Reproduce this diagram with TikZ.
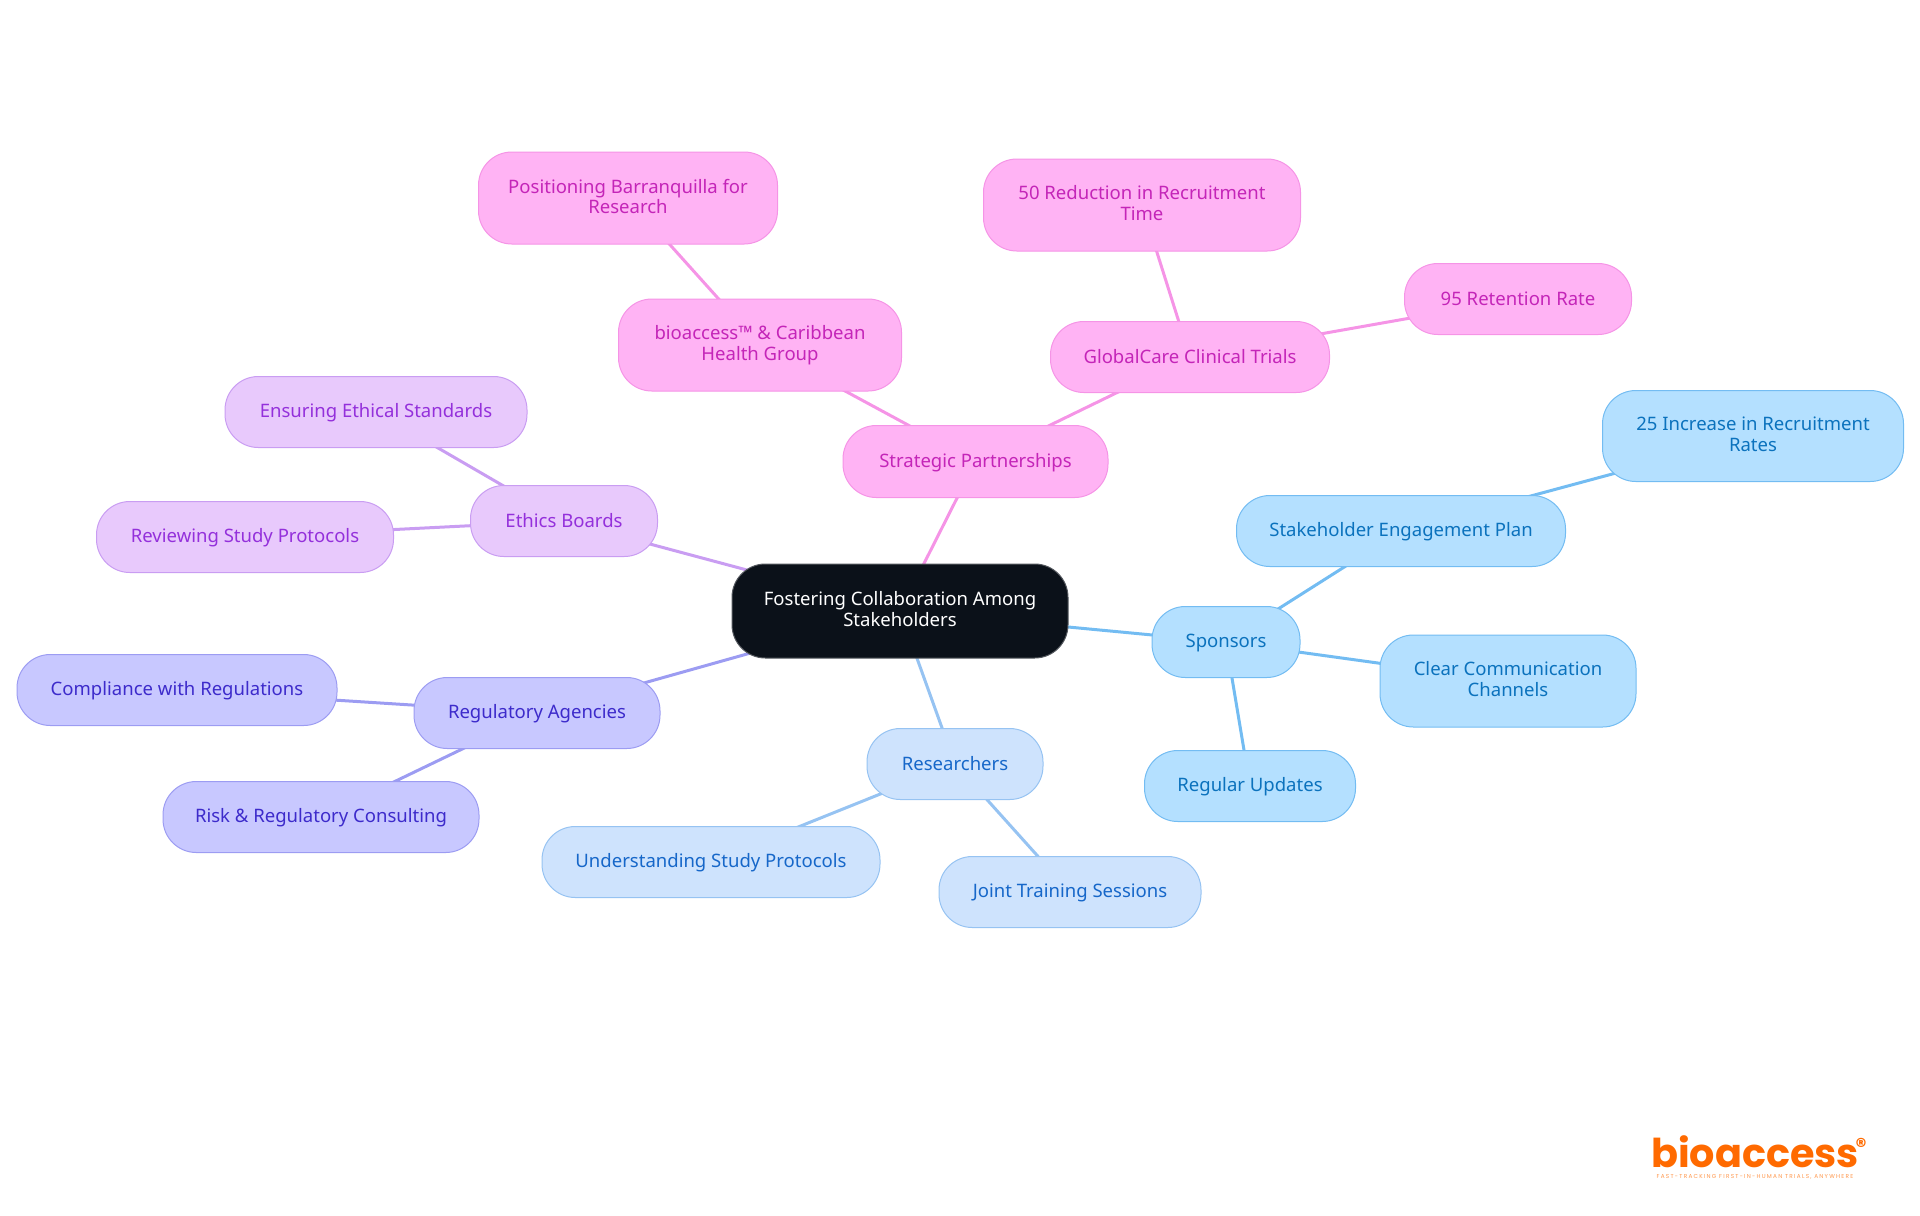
\documentclass[tikz,border=0pt]{standalone}
\usepackage{fontspec}
\setmainfont{Noto Sans}
\newfontfamily\logofont[Ligatures=NoCommon]{Poppins}
\newfontfamily\tagfont[LetterSpace=22]{Poppins}
\usetikzlibrary{backgrounds}
\definecolor{rootfill}{HTML}{0B1119}
\definecolor{pinkfill}{HTML}{FFB3F4}
\definecolor{pinkline}{HTML}{F594E6}
\definecolor{pinktext}{HTML}{C425B8}
\definecolor{lilacfill}{HTML}{E8C9FC}
\definecolor{lilacline}{HTML}{C99DF2}
\definecolor{lilactext}{HTML}{9430DB}
\definecolor{indigofill}{HTML}{C8C8FF}
\definecolor{indigoline}{HTML}{9C9CF2}
\definecolor{indigotext}{HTML}{3D2BCB}
\definecolor{palefill}{HTML}{CEE3FD}
\definecolor{paleline}{HTML}{96C3F2}
\definecolor{paletext}{HTML}{1667C9}
\definecolor{skyfill}{HTML}{B4E0FF}
\definecolor{skyline}{HTML}{73BCF2}
\definecolor{skytext}{HTML}{0B72BD}
\definecolor{logoorange}{HTML}{FF6A00}
\tikzset{
  mapbox/.style={rectangle, draw, rounded corners=25pt, inner sep=0pt, align=center, line width=0.75pt,
    font=\fontsize{13.9pt}{15.5pt}\selectfont,
    execute at begin node={\rule{0pt}{12pt}}, execute at end node={\rule[-2.6pt]{0pt}{2.6pt}}},
  boxsize/.style 2 args={minimum width=#1*0.75pt, minimum height=#2*0.75pt},
  rootbox/.style={mapbox, fill=rootfill, draw=rootfill!70!white, text=white},
  pinkbox/.style={mapbox, fill=pinkfill, draw=pinkline, text=pinktext},
  lilacbox/.style={mapbox, fill=lilacfill, draw=lilacline, text=lilactext},
  indigobox/.style={mapbox, fill=indigofill, draw=indigoline, text=indigotext},
  palebox/.style={mapbox, fill=palefill, draw=paleline, text=paletext},
  skybox/.style={mapbox, fill=skyfill, draw=skyline, text=skytext},
  link/.style={line width=2.25pt}
}
\begin{document}
\begin{tikzpicture}[x=0.75pt, y=-0.75pt]
    \useasboundingbox (0,0) rectangle (1920,1215);

    % Nodes
    \node (root) [rootbox, boxsize={336}{94}] at (900,611) {Fostering Collaboration Among\\Stakeholders};

    \node (partners) [pinkbox, boxsize={265}{72}] at (975.5,461.5) {Strategic Partnerships};
    \node (caribbean) [pinkbox, boxsize={283}{92}] at (760,345) {bioaccess™ \& Caribbean\\Health Group};
    \node (barranquilla) [pinkbox, boxsize={299}{92}] at (628,198) {Positioning Barranquilla for\\Research};
    \node (globalcare) [pinkbox, boxsize={279}{71}] at (1190,357) {GlobalCare Clinical Trials};
    \node (reduction) [pinkbox, boxsize={317}{92}] at (1142,205) {50 Reduction in Recruitment\\Time};
    \node (retention) [pinkbox, boxsize={227}{71}] at (1518,299) {95 Retention Rate};

    \node (ethics) [lilacbox, boxsize={187}{71}] at (564,521) {Ethics Boards};
    \node (standards) [lilacbox, boxsize={302}{71}] at (376,412) {Ensuring Ethical Standards};
    \node (reviewing) [lilacbox, boxsize={297}{71}] at (245,537) {Reviewing Study Protocols};

    \node (agencies) [indigobox, boxsize={246}{71}] at (537,713) {Regulatory Agencies};
    \node (compliance) [indigobox, boxsize={320}{71}] at (177,690) {Compliance with Regulations};
    \node (consulting) [indigobox, boxsize={316}{71}] at (321,817) {Risk \& Regulatory Consulting};

    \node (researchers) [palebox, boxsize={176}{71}] at (955,764) {Researchers};
    \node (protocols) [palebox, boxsize={338}{71}] at (711,862) {Understanding Study Protocols};
    \node (training) [palebox, boxsize={262}{71}] at (1070,892) {Joint Training Sessions};

    \node (sponsors) [skybox, boxsize={148}{71}] at (1226,642) {Sponsors};
    \node (engagement) [skybox, boxsize={329}{71}] at (1401,531) {Stakeholder Engagement Plan};
    \node (increase) [skybox, boxsize={301}{91}] at (1753,436) {25 Increase in Recruitment\\Rates};
    \node (channels) [skybox, boxsize={256}{92}] at (1508,681) {Clear Communication\\Channels};
    \node (updates) [skybox, boxsize={211}{71}] at (1250,786) {Regular Updates};

    % Logo
    \node (logo) [inner sep=0pt, text=logoorange, font=\logofont\bfseries\fontsize{29.8pt}{30pt}\selectfont] at (1755,1152) {bioaccess};
    \node (logomark) [inner sep=0pt, text=logoorange, font=\logofont\bfseries\fontsize{16pt}{16pt}\selectfont] at (1861,1146) {®};
    \node (logotag) [inner sep=0pt, text=logoorange!70, font=\tagfont\fontsize{4.3pt}{5pt}\selectfont] at (1755,1177) {FAST-TRACKING FIRST-IN-HUMAN TRIALS, ANYWHERE};

    % Connectors
    \begin{scope}[on background layer]
      \draw[link, pinkline] (root.center) -- (partners.center);
      \draw[link, pinkline] (partners.center) -- (caribbean.center);
      \draw[link, pinkline] (caribbean.center) -- (barranquilla.center);
      \draw[link, pinkline] (partners.center) -- (globalcare.center);
      \draw[link, pinkline] (globalcare.center) -- (reduction.center);
      \draw[link, pinkline] (globalcare.center) -- (retention.center);
      \draw[link, lilacline] (root.center) -- (ethics.center);
      \draw[link, lilacline] (ethics.center) -- (standards.center);
      \draw[link, lilacline] (ethics.center) -- (reviewing.center);
      \draw[link, indigoline] (root.center) -- (agencies.center);
      \draw[link, indigoline] (agencies.center) -- (compliance.center);
      \draw[link, indigoline] (agencies.center) -- (consulting.center);
      \draw[link, paleline] (root.center) -- (researchers.center);
      \draw[link, paleline] (researchers.center) -- (protocols.center);
      \draw[link, paleline] (researchers.center) -- (training.center);
      \draw[link, skyline] (root.center) -- (sponsors.center);
      \draw[link, skyline] (sponsors.center) -- (engagement.center);
      \draw[link, skyline] (engagement.center) -- (increase.center);
      \draw[link, skyline] (sponsors.center) -- (channels.center);
      \draw[link, skyline] (sponsors.center) -- (updates.center);
    \end{scope}
  \end{tikzpicture}
\end{document}
